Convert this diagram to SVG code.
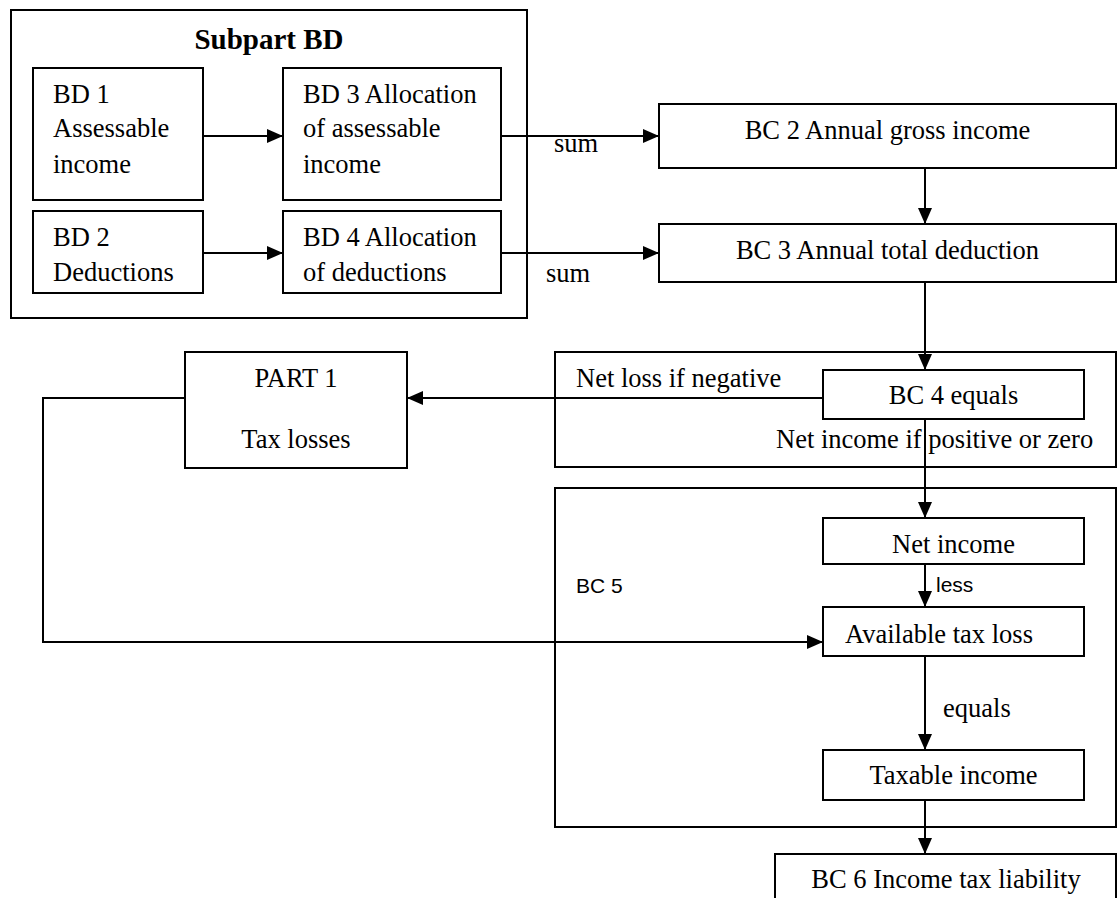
<svg xmlns="http://www.w3.org/2000/svg" width="1117" height="898" viewBox="0 0 1117 898">
<style>
rect{fill:none;stroke:#000;stroke-width:2}
text{font-family:"Liberation Serif","Times New Roman",serif;font-size:26.5px;fill:#000}
.c{text-anchor:middle}
.b{font-weight:bold;font-size:29px}
.s{font-family:"Liberation Sans",Arial,sans-serif;font-size:21px}
.ln{fill:none;stroke:#000;stroke-width:2}
</style>
<defs>
<marker id="ah" markerUnits="userSpaceOnUse" markerWidth="16" markerHeight="14" refX="16" refY="7" orient="auto">
<path d="M0,0 L16,7 L0,14 Z" fill="#000"/>
</marker>
</defs>
<g id="subpart-bd">
<rect x="11" y="10" width="516" height="308"/>
<text class="b c" x="269" y="49">Subpart BD</text>
</g>
<g id="bd1">
<rect x="33" y="68" width="170" height="132"/>
<text x="53" y="103">BD 1</text>
<text x="53" y="137">Assessable</text>
<text x="53" y="173">income</text>
</g>
<g id="bd3">
<rect x="283" y="68" width="218" height="132"/>
<text x="303" y="103">BD 3 Allocation</text>
<text x="303" y="137">of assessable</text>
<text x="303" y="173">income</text>
</g>
<g id="bd2">
<rect x="33" y="211" width="170" height="82"/>
<text x="53" y="246">BD 2</text>
<text x="53" y="281">Deductions</text>
</g>
<g id="bd4">
<rect x="283" y="211" width="218" height="82"/>
<text x="303" y="246">BD 4 Allocation</text>
<text x="303" y="281">of deductions</text>
</g>
<g id="bc2">
<rect x="659" y="104" width="457" height="64"/>
<text class="c" x="887.5" y="139">BC 2 Annual gross income</text>
</g>
<g id="bc3">
<rect x="659" y="224" width="457" height="58"/>
<text class="c" x="887.5" y="259">BC 3 Annual total deduction</text>
</g>
<g id="bc4-region">
<rect x="555" y="352" width="561" height="115"/>
<text x="576" y="387">Net loss if negative</text>
<text x="776" y="448">Net income if positive or zero</text>
</g>
<g id="bc4">
<rect x="823" y="370" width="261" height="49"/>
<text class="c" x="953.5" y="404">BC 4 equals</text>
</g>
<g id="part1">
<rect x="185" y="352" width="222" height="116"/>
<text class="c" x="296" y="387">PART 1</text>
<text class="c" x="296" y="448">Tax losses</text>
</g>
<g id="bc5">
<rect x="555" y="488" width="561" height="339"/>
<text class="s" x="576" y="593">BC 5</text>
</g>
<g id="net-income">
<rect x="823" y="518" width="261" height="46"/>
<text class="c" x="953.5" y="553">Net income</text>
</g>
<g id="available-tax-loss">
<rect x="823" y="607" width="261" height="49"/>
<text class="c" x="939" y="643">Available tax loss</text>
</g>
<g id="taxable-income">
<rect x="823" y="750" width="261" height="50"/>
<text class="c" x="953.5" y="784">Taxable income</text>
</g>
<g id="bc6">
<rect x="775" y="854" width="341" height="60"/>
<text class="c" x="946" y="888">BC 6 Income tax liability</text>
</g>
<g id="connectors">
<path class="ln" d="M203,136 H283" marker-end="url(#ah)"/>
<path class="ln" d="M203,253 H283" marker-end="url(#ah)"/>
<path class="ln" d="M501,136 H659" marker-end="url(#ah)"/>
<path class="ln" d="M501,253 H659" marker-end="url(#ah)"/>
<path class="ln" d="M925,168 V224" marker-end="url(#ah)"/>
<path class="ln" d="M925,282 V370" marker-end="url(#ah)"/>
<path class="ln" d="M823,398 H407" marker-end="url(#ah)"/>
<path class="ln" d="M925,419 V518" marker-end="url(#ah)"/>
<path class="ln" d="M185,398 H43 V642 H823" marker-end="url(#ah)"/>
<path class="ln" d="M925,564 V607" marker-end="url(#ah)"/>
<path class="ln" d="M925,656 V750" marker-end="url(#ah)"/>
<path class="ln" d="M925,800 V854" marker-end="url(#ah)"/>
<text x="554" y="152">sum</text>
<text x="546" y="282">sum</text>
<text class="s" x="936" y="592">less</text>
<text x="943" y="717">equals</text>
</g>
</svg>
